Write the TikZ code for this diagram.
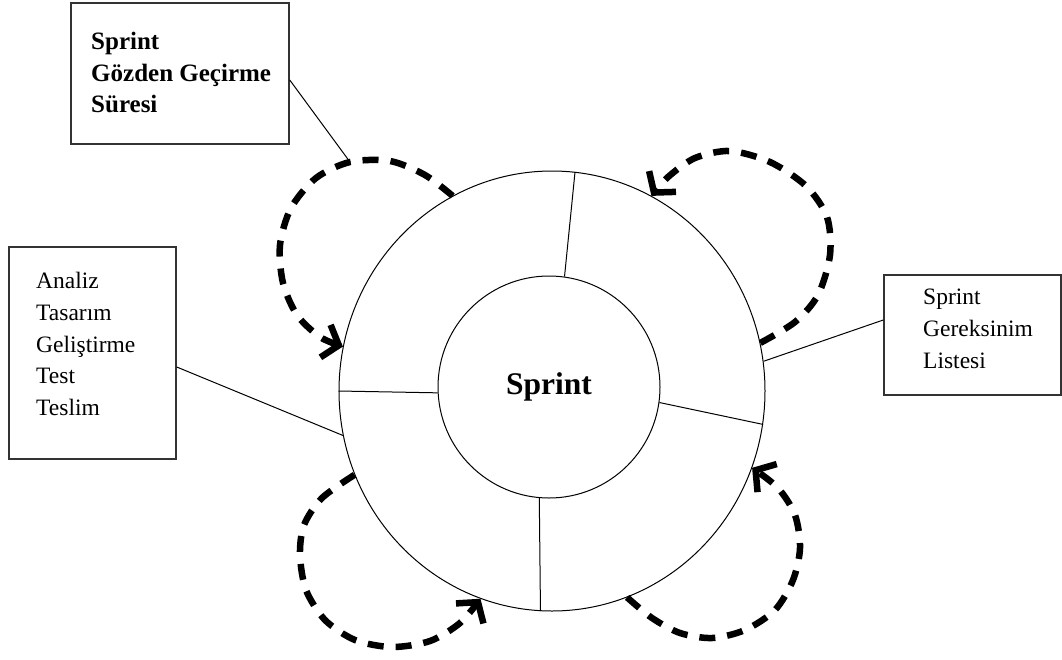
\documentclass[tikz,border=0pt]{standalone}
\usepackage{fontspec}
\setmainfont{Liberation Serif}
\usetikzlibrary{shapes.geometric,arrows.meta}
\begin{document}
\begin{tikzpicture}[x=1pt,y=-1pt,
  frame/.style={draw=black!80, line width=1.5pt, inner sep=0pt},
  thinline/.style={line width=1pt},
  boxtext/.style={inner sep=0pt, anchor=north west, align=left, font=\fontsize{23.5}{31.8}\selectfont},
  cycle/.style={line width=6.5pt, dash pattern=on 16pt off 12pt,
    -{Straight Barb[length=14pt,width=34pt]}}
]
\useasboundingbox (0,0) rectangle (1062,659);

% sprint wheel: outer ring, hub and the four spokes
\node[draw, thinline, ellipse, minimum width=426pt, minimum height=440pt, inner sep=0pt] (ring) at (552,391) {};
\node[draw, thinline, circle, minimum size=222pt, inner sep=0pt,
      font=\fontsize{31.5}{36}\bfseries\selectfont] (hub) at (549,387) {Sprint};
\draw[thinline] (hub.82.9) -- (ring.84.5);
\draw[thinline] (hub.183) -- (ring.180.5);
\draw[thinline] (hub.352.2) -- (ring.351.4);
\draw[thinline] (hub.265.9) -- (ring.267);

% labelled boxes
\node[frame, minimum width=218pt, minimum height=141pt] (review) at (180,73.5) {};
\node[boxtext, font=\fontsize{25}{31.5}\bfseries\selectfont] (reviewtext) at (91,32) {Sprint\\Gözden Geçirme\\Süresi};

\node[frame, minimum width=167pt, minimum height=212pt] (plan) at (92.5,353) {};
\node[boxtext] (plantext) at (36,272) {Analiz\\Tasarım\\Geliştirme\\Test\\Teslim};

\node[frame, minimum width=177pt, minimum height=120pt] (backlog) at (972.5,335) {};
\node[boxtext] (backlogtext) at (923,289) {Sprint\\Gereksinim\\Listesi};

% dashed feedback loops around the ring
\coordinate (tlmid) at (350,162);
\draw[cycle] plot[smooth] coordinates {(ring.117.8) (425,175) (390,161) (tlmid) (316,178) (291,208) (280,245) (283,283) (297,315) (320,337) (ring.168)};
\draw[cycle] plot[smooth] coordinates {(ring.13.3) (795,322) (818,295) (830,255) (827,217) (806,186) (770,162) (730,151) (695,158) (668,177) (ring.63.2)};
\draw[cycle] plot[smooth] coordinates {(ring.203.4) (322,498) (304,525) (300,555) (306,590) (325,620) (355,640) (392,647) (430,641) (460,623) (ring.251.5)};
\draw[cycle] plot[smooth] coordinates {(ring.290.9) (652,618) (680,633) (712,638) (745,630) (775,610) (793,580) (800,548) (795,515) (778,488) (ring.339.8)};

% leader lines from the boxes
\draw[thinline] ([yshift=-6.5pt]review.east) -- (tlmid);
\draw[thinline] ([yshift=-14pt]plan.east) -- (ring.192.4);
\draw[thinline] ([yshift=15pt]backlog.west) -- (ring.8.5);
\end{tikzpicture}
\end{document}
